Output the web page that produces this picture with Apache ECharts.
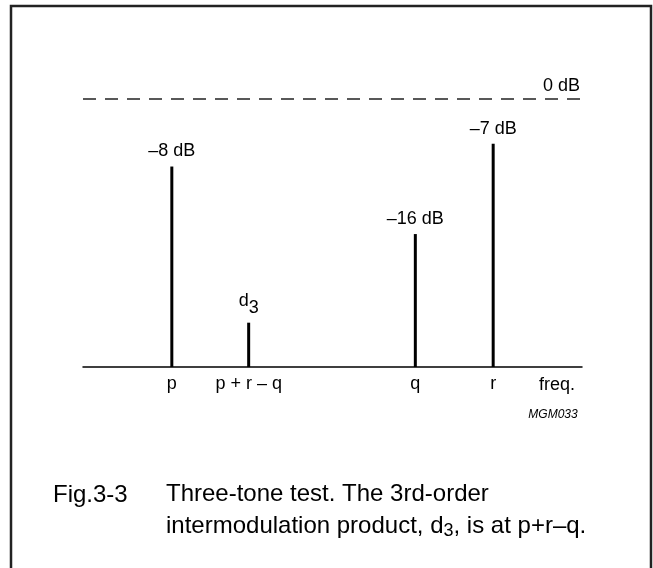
<!DOCTYPE html>
<html>
<head>
<meta charset="utf-8">
<script src="https://cdn.jsdelivr.net/npm/echarts@6/dist/echarts.min.js"></script>
<style>
  html, body { margin: 0; padding: 0; background: #fff; }
  #chart { width: 653px; height: 568px; }
</style>
</head>
<body>
<div id="chart"></div>
<script>
// Three-tone spectrum: tone positions on the freq. axis and their plotted levels (dB)
const toneNames  = ['p', 'p + r – q', 'q', 'r'];
const toneFreqs  = [89, 166, 333, 411];
const toneLevels = [-8, -26.5, -16, -5.3];
const toneTags   = ['–8 dB', '{d|d}{s|3}', '–16 dB', '–7 dB'];
const baseLevel  = -31.75;
const refLevel   = 0;
const refLabel   = '0 dB';

const FONT = '"Liberation Sans", Arial, sans-serif';

const chart = echarts.init(document.getElementById('chart'));

chart.setOption({
    backgroundColor: '#fff',
    animation: false,
    grid: { left: 83, right: 71, top: 99, bottom: 201 },
    xAxis: {
        type: 'value',
        min: 0,
        max: 500,
        axisLine: { show: true, onZero: false, lineStyle: { color: '#000', width: 1.5 } },
        axisTick: { show: false },
        splitLine: { show: false },
        axisLabel: {
            customValues: toneFreqs,
            formatter: v => toneNames[toneFreqs.indexOf(v)],
            color: '#000',
            fontFamily: FONT,
            fontSize: 18,
            margin: 8,
        },
    },
    yAxis: {
        type: 'value',
        min: baseLevel,
        max: refLevel,
        show: false,
    },
    title: [
        {
            text: 'Fig.3-3',
            left: 48, top: 478,
            textStyle: { fontFamily: FONT, fontSize: 24, fontWeight: 'normal', color: '#000' },
        },
        {
            text: 'Three-tone test. The 3rd-order\nintermodulation product, d{s|3}, is at p+r–q.',
            left: 161, top: 473,
            textStyle: {
                fontFamily: FONT, fontSize: 24, fontWeight: 'normal', color: '#000', lineHeight: 32,
                rich: { s: { fontFamily: FONT, fontSize: 18, color: '#000', padding: [10, 0, 0, 0] } },
            },
        },
    ],
    graphic: [
        {
            type: 'rect',
            shape: { x: 11, y: 6, width: 640, height: 600 },
            style: { fill: 'none', stroke: '#222', lineWidth: 2.5 },
            silent: true,
        },
        {
            type: 'text', x: 557, y: 385,
            style: { text: 'freq.', font: '18px ' + FONT, fill: '#000', align: 'center', verticalAlign: 'middle' },
        },
        {
            type: 'text', x: 553, y: 415,
            style: { text: 'MGM033', font: 'italic 12px ' + FONT, fill: '#000', align: 'center', verticalAlign: 'middle' },
        },
    ],
    series: [{
        type: 'custom',
        data: toneFreqs.map((f, i) => [f, toneLevels[i]]),
        renderItem: (params, api) => {
            const top = api.coord([api.value(0), api.value(1)]);
            const bot = api.coord([api.value(0), baseLevel]);
            return {
                type: 'group',
                children: [
                    {
                        type: 'line',
                        shape: { x1: top[0], y1: top[1], x2: bot[0], y2: bot[1] },
                        style: { stroke: '#000', lineWidth: 3 },
                    },
                    {
                        type: 'text',
                        x: top[0], y: top[1] - 6,
                        style: {
                            text: toneTags[params.dataIndex],
                            font: '18px ' + FONT,
                            fill: '#000',
                            align: 'center',
                            verticalAlign: 'bottom',
                            rich: {
                                d: { fontFamily: FONT, fontSize: 18, fill: '#000', verticalAlign: 'top' },
                                s: { fontFamily: FONT, fontSize: 18, fill: '#000', padding: [7, 0, 0, 0] },
                            },
                        },
                    },
                ],
            };
        },
        markLine: {
            silent: true,
            symbol: 'none',
            data: [{ yAxis: refLevel }],
            lineStyle: { color: '#222', width: 1.5, type: [13, 9] },
            label: {
                position: 'insideEndTop',
                formatter: refLabel,
                color: '#000',
                fontFamily: FONT,
                fontSize: 18,
                distance: [2, 4],
            },
        },
    }],
});
</script>
</body>
</html>
